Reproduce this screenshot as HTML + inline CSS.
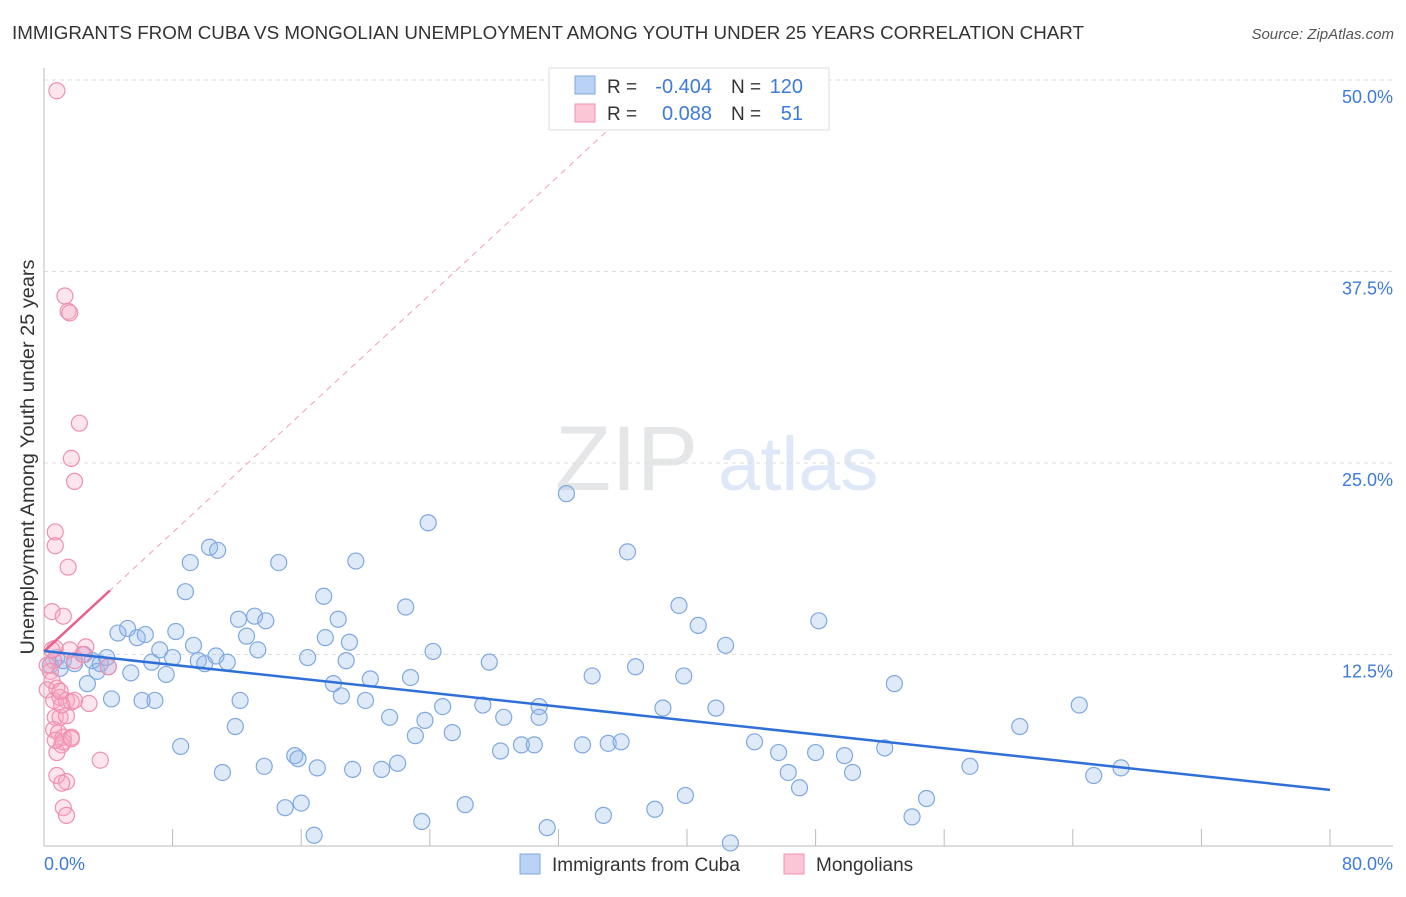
<!DOCTYPE html>
<html><head><meta charset="utf-8"><style>
body{margin:0;background:#fff;font-family:"Liberation Sans",sans-serif;}
svg text{font-family:"Liberation Sans",sans-serif;}
</style></head><body>
<svg id="chart" width="1406" height="892" xmlns="http://www.w3.org/2000/svg">
<text x="12" y="39" font-size="18" fill="#333" textLength="1072" lengthAdjust="spacingAndGlyphs">IMMIGRANTS FROM CUBA VS MONGOLIAN UNEMPLOYMENT AMONG YOUTH UNDER 25 YEARS CORRELATION CHART</text>
<text x="1394" y="39" font-size="15" fill="#555" text-anchor="end" font-style="italic">Source: ZipAtlas.com</text>
<g opacity="0.25">
<text x="555" y="490" font-size="92" font-family="Liberation Serif,serif" fill="#9aa0a8">ZIP</text>
<text x="718" y="490" font-size="76" fill="#7fa8e0">atlas</text>
</g>
<g id="grid"></g>
<g id="axes"></g>
<g id="marks"></g>
<text transform="translate(34,457) rotate(-90)" font-size="19" fill="#333" text-anchor="middle" textLength="395" lengthAdjust="spacingAndGlyphs">Unemployment Among Youth under 25 years</text>
<text x="44" y="870" font-size="18" fill="#3d7bd9">0.0%</text>
<text x="1393" y="870" font-size="18" fill="#3d7bd9" text-anchor="end">80.0%</text>
<g>
<rect x="549" y="68" width="280" height="62" fill="#fff" stroke="#ddd"/>
<rect x="575" y="76" width="20" height="18" fill="#b9d2f5" stroke="#7fa8e0"/>
<rect x="575" y="104" width="20" height="18" fill="#fbc6d6" stroke="#f08fb0"/>
<text x="607" y="93" font-size="19" fill="#333">R =</text>
<text x="712" y="93" font-size="20" fill="#3d7bd9" text-anchor="end">-0.404</text>
<text x="731" y="93" font-size="19" fill="#333">N =</text>
<text x="803" y="93" font-size="20" fill="#3d7bd9" text-anchor="end">120</text>
<text x="607" y="120" font-size="19" fill="#333">R =</text>
<text x="712" y="120" font-size="20" fill="#3d7bd9" text-anchor="end">0.088</text>
<text x="731" y="120" font-size="19" fill="#333">N =</text>
<text x="803" y="120" font-size="20" fill="#3d7bd9" text-anchor="end">51</text>
</g>
<g>
<rect x="520" y="854" width="20" height="20" fill="#b9d2f5" stroke="#7fa8e0"/>
<text x="552" y="871" font-size="19" fill="#333">Immigrants from Cuba</text>
<rect x="784" y="854" width="20" height="20" fill="#fbc6d6" stroke="#f08fb0"/>
<text x="816" y="871" font-size="19" fill="#333">Mongolians</text>
</g>
</svg>
<script>
const yTicks=[12.5,25,37.5,50];
const yTickLabels=["12.5%","25.0%","37.5%","50.0%"];
const xTicks=[0,8,16,24,32,40,48,56,64,72,80];
const cubaX=[0.8,0.4,1.0,1.2,1.9,2.5,3.0,3.3,3.5,4.0,3.9,2.7,4.2,4.6,5.2,5.4,5.8,6.3,6.7,6.9,6.1,7.2,7.6,8.0,8.2,8.5,8.8,9.1,9.3,9.6,10.0,10.3,10.8,10.7,11.1,11.4,11.9,12.2,12.1,12.6,13.1,13.3,13.7,13.8,14.6,15.0,15.6,15.8,16.0,16.4,17.0,16.8,17.4,17.5,18.0,18.3,18.5,18.8,19.0,19.4,19.2,20.0,20.3,21.0,21.5,22.0,22.5,22.8,23.1,23.5,23.7,23.9,24.2,24.8,25.4,26.2,27.3,27.7,28.4,28.6,29.7,30.5,30.8,30.8,31.3,32.5,33.5,34.1,34.8,35.1,35.9,36.3,36.8,38.0,38.5,39.5,39.8,39.9,40.7,41.8,42.4,42.7,44.2,45.7,46.3,47.0,48.0,48.2,49.8,50.3,52.3,52.9,54.0,54.9,57.6,60.7,64.4,65.3,67.0];
const cubaY=[12.3,11.8,11.6,12.1,11.9,12.5,12.1,11.4,11.9,11.7,12.3,10.6,9.6,13.9,14.2,11.3,13.6,13.8,12.0,9.5,9.5,12.8,11.2,12.3,14.0,6.5,16.6,18.5,13.1,12.1,11.9,19.5,19.3,12.4,4.8,12.0,7.8,9.5,14.8,13.7,15.0,12.8,5.2,14.7,18.5,2.5,5.9,5.7,2.8,12.3,5.1,0.7,16.3,13.6,10.6,14.8,9.8,12.1,13.3,18.6,5.0,9.5,10.9,5.0,8.4,5.4,15.6,11.0,7.2,1.6,8.2,21.1,12.7,9.1,7.4,2.7,9.2,12.0,6.2,8.4,6.6,6.6,9.1,8.4,1.2,23.0,6.6,11.1,2.0,6.7,6.8,19.2,11.7,2.4,9.0,15.7,11.1,3.3,14.4,9.0,13.1,0.2,6.8,6.1,4.8,3.8,6.1,14.7,5.9,4.8,6.4,10.6,1.9,3.1,5.2,7.8,9.2,4.6,5.1];
const mongX=[0.8,1.3,1.5,1.6,2.2,1.7,1.9,0.7,0.7,1.5,0.5,1.2,0.7,0.6,0.4,0.5,0.2,0.6,1.0,1.4,1.7,1.9,2.8,0.7,1.0,1.4,0.6,0.9,1.2,1.7,1.1,0.8,1.2,0.8,1.4,1.1,1.2,1.4,3.5,1.7,2.6,2.4,4.0,0.2,0.5,1.6,0.8,1.1,0.7,1.0,1.9];
const mongY=[49.3,35.9,34.9,34.8,27.6,25.3,23.8,20.5,19.6,18.2,15.3,15.0,12.9,12.1,11.4,10.8,10.2,9.5,9.7,9.5,9.4,9.5,9.3,8.4,8.4,8.5,7.6,7.4,7.1,7.1,6.6,6.1,6.8,4.6,4.2,4.1,2.5,2.0,5.6,7.0,13.0,12.5,11.7,11.8,12.8,12.8,10.3,9.2,6.9,10.1,12.1];
const cubaTrend=[12.73,3.66];
const mongTrend=[12.7,0.97];

const NS="http://www.w3.org/2000/svg";
const X=v=>44+v*16.075, Y=v=>846-v*15.32;
function mk(parent,tag,attrs){const e=document.createElementNS(NS,tag);for(const k in attrs)e.setAttribute(k,attrs[k]);document.getElementById(parent).appendChild(e);return e;}
yTicks.forEach((t,i)=>{
 let l=mk('grid','line',{x1:44,x2:1393,y1:Y(t),y2:Y(t),stroke:'#ddd','stroke-dasharray':'4,4'});
 
 
 let tx=mk('grid','text',{x:1393,y:Y(t)+23,'font-size':18,fill:'#3d7bd9','text-anchor':'end'});
 tx.textContent=yTickLabels[i];
 
 
});
let ya=mk('axes','line',{x1:44,x2:44,y1:68,y2:846,stroke:'#bbb'});


let xa=mk('axes','line',{x1:44,x2:1393,y1:846,y2:846,stroke:'#bbb'});


xTicks.forEach(t=>{
 let l=mk('axes','line',{x1:X(t),x2:X(t),y1:829,y2:846,stroke:'#bbb'});
 
 
});
cubaX.forEach((v,i)=>{
 let c=mk('marks','circle',{cx:X(v),cy:Y(cubaY[i]),r:8,fill:'rgba(150,185,235,0.3)',stroke:'#7fa8e0','stroke-width':1.2});
 
 
});
mongX.forEach((v,i)=>{
 let c=mk('marks','circle',{cx:X(v),cy:Y(mongY[i]),r:8,fill:'rgba(245,170,195,0.3)',stroke:'#f08fb0','stroke-width':1.2});
 
 
});
let d=mk('marks','line',{x1:X(0),y1:Y(mongTrend[0]),x2:X(36),y2:Y(mongTrend[0]+36*mongTrend[1]),stroke:'#f0a0b8','stroke-dasharray':'6,5','stroke-width':1});


let pt=mk('marks','line',{x1:X(0),y1:Y(mongTrend[0]),x2:X(4.1),y2:Y(mongTrend[0]+4.1*mongTrend[1]),stroke:'#e8608a','stroke-width':2.5});


let bt=mk('marks','line',{x1:X(0),y1:Y(cubaTrend[0]),x2:X(80),y2:Y(cubaTrend[1]),stroke:'#2f6fd8','stroke-width':2.5});


</script>
</body></html>
